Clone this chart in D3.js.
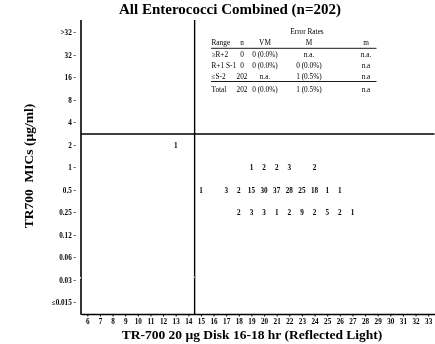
<!DOCTYPE html>
<html><head><meta charset="utf-8">
<script src="https://cdn.jsdelivr.net/npm/d3@7/dist/d3.min.js"></script>
<style>
html,body{margin:0;padding:0;background:#fff;}
svg{display:block;font-family:"Liberation Serif","Times New Roman",serif;will-change:transform;}
</style></head>
<body>
<svg id="c" width="435" height="344"></svg>
<script>
const yCats = [">32","32","16","8","4","2","1","0.5","0.25","0.12","0.06","0.03","\u22640.015"];
const xTicks = d3.range(6, 34);
const row2   = [[13,1]];
const row1   = [[19,1],[20,2],[21,2],[22,3],[24,2]];
const row05  = [[15,1],[17,3],[18,2],[19,15],[20,30],[21,37],[22,28],[23,25],[24,18],[25,1],[26,1]];
const row025 = [[18,2],[19,3],[20,3],[21,1],[22,2],[23,9],[24,2],[25,5],[26,2],[27,1]];
const cells = [].concat(
  row2.map(d=>({x:d[0],y:"2",v:d[1]})),
  row1.map(d=>({x:d[0],y:"1",v:d[1]})),
  row05.map(d=>({x:d[0],y:"0.5",v:d[1]})),
  row025.map(d=>({x:d[0],y:"0.25",v:d[1]}))
);
const xBreak = 14.5;      // disk breakpoint
const yBreakCat = "2";    // MIC breakpoint (line above this band)
const tableTitle = "Error Rates";
const tableHead = ["Range","n","VM","M","m"];
const tableRows = [
  ["\u2265R+2","0","0 (0.0%)","n.a.","n.a."],
  ["R+1 S-1","0","0 (0.0%)","0 (0.0%)","n.a"],
  ["\u2264S-2","202","n.a.","1 (0.5%)","n.a"],
  ["Total","202","0 (0.0%)","1 (0.5%)","n.a"]
];
const title = "All Enterococci Combined (n=202)";
const xTitle = "TR-700 20 \u00b5g Disk 16-18 hr (Reflected Light)";
const yTitle = "TR700\u00a0\u00a0MICs (\u00b5g/ml)";

const svg = d3.select("#c");
const x = d3.scaleLinear().domain([5.5, 33.5]).range([81, 434.5]);
const y = d3.scaleBand().domain(yCats).range([21.5, 314]);

// title
svg.append("text").attr("x", 230).attr("y", 13.5).attr("text-anchor","middle")
  .attr("font-size", 15).attr("font-weight","bold").text(title);

// bottom axis
const gx = svg.append("g").attr("transform","translate(0,314)")
  .call(d3.axisBottom(x).tickValues(xTicks).tickSize(2.5).tickSizeOuter(0).tickPadding(2).tickFormat(d3.format("d")));
gx.select(".domain").attr("stroke-width",1.6);
gx.selectAll(".tick text").attr("font-size",7.2).attr("font-weight","bold")
  .attr("font-family","Liberation Serif, serif").attr("fill","#000");

// left axis
const gy = svg.append("g").attr("transform","translate(81,0)")
  .call(d3.axisLeft(y).tickSize(0).tickPadding(5).tickFormat(d=>d+" -"));
gy.select(".domain").remove();
gy.selectAll(".tick text").attr("font-size",7.2).attr("font-weight","bold")
  .attr("font-family","Liberation Serif, serif").attr("fill","#000");
svg.append("line").attr("x1",81).attr("x2",81).attr("y1",20).attr("y2",314.8)
  .attr("stroke","#000").attr("stroke-width",1.6);

// breakpoint lines
svg.append("line").attr("x1",x(xBreak)).attr("x2",x(xBreak)).attr("y1",20).attr("y2",314)
  .attr("stroke","#000").attr("stroke-width",1.4);
svg.append("line").attr("x1",81).attr("x2",434.5).attr("y1",y(yBreakCat)).attr("y2",y(yBreakCat))
  .attr("stroke","#000").attr("stroke-width",1.4);

// small print gaps seen on the vertical rules
svg.append("rect").attr("x",80).attr("y",277).attr("width",1).attr("height",1.5).attr("fill","#fff");
svg.append("rect").attr("x",x(xBreak)-0.7).attr("y",276.5).attr("width",0.7).attr("height",1.5).attr("fill","#fff");

// cell counts
svg.append("g").selectAll("text").data(cells).join("text")
  .attr("x", d=>x(d.x)).attr("y", d=>y(d.y)+y.bandwidth()/2+2.5)
  .attr("text-anchor","middle").attr("font-size",7.2).attr("font-weight","bold")
  .text(d=>d.v);

// axis titles
svg.append("text").attr("x",252).attr("y",339).attr("text-anchor","middle")
  .attr("font-size",13.5).attr("font-weight","bold").text(xTitle);
svg.append("text").attr("transform","translate(33,166) rotate(-90)").attr("text-anchor","middle")
  .attr("font-size",13.5).attr("font-weight","bold").text(yTitle);

// error rate table
const colX = [211.5, 242, 265, 309, 366];
const colAnchor = ["start","middle","middle","middle","middle"];
const tg = svg.append("g").attr("font-size",7.3);
tg.append("text").attr("x",307).attr("y",33.5).attr("text-anchor","middle").text(tableTitle);
tg.selectAll("text.h").data(tableHead).join("text").attr("class","h")
  .attr("x",(d,i)=>colX[i]).attr("y",45).attr("text-anchor",(d,i)=>colAnchor[i]).text(d=>d);
const rowY = [56.5, 68, 79, 92];
tableRows.forEach((r,ri)=>{
  tg.selectAll("text.r"+ri).data(r).join("text").attr("class","r"+ri)
    .attr("x",(d,i)=>colX[i]).attr("y",rowY[ri]).attr("text-anchor",(d,i)=>colAnchor[i]).text(d=>d);
});
tg.append("line").attr("x1",211).attr("x2",376.5).attr("y1",48.3).attr("y2",48.3).attr("stroke","#000").attr("stroke-width",0.9);
tg.append("line").attr("x1",211).attr("x2",376.5).attr("y1",81.5).attr("y2",81.5).attr("stroke","#000").attr("stroke-width",0.9);
</script>
</body></html>
